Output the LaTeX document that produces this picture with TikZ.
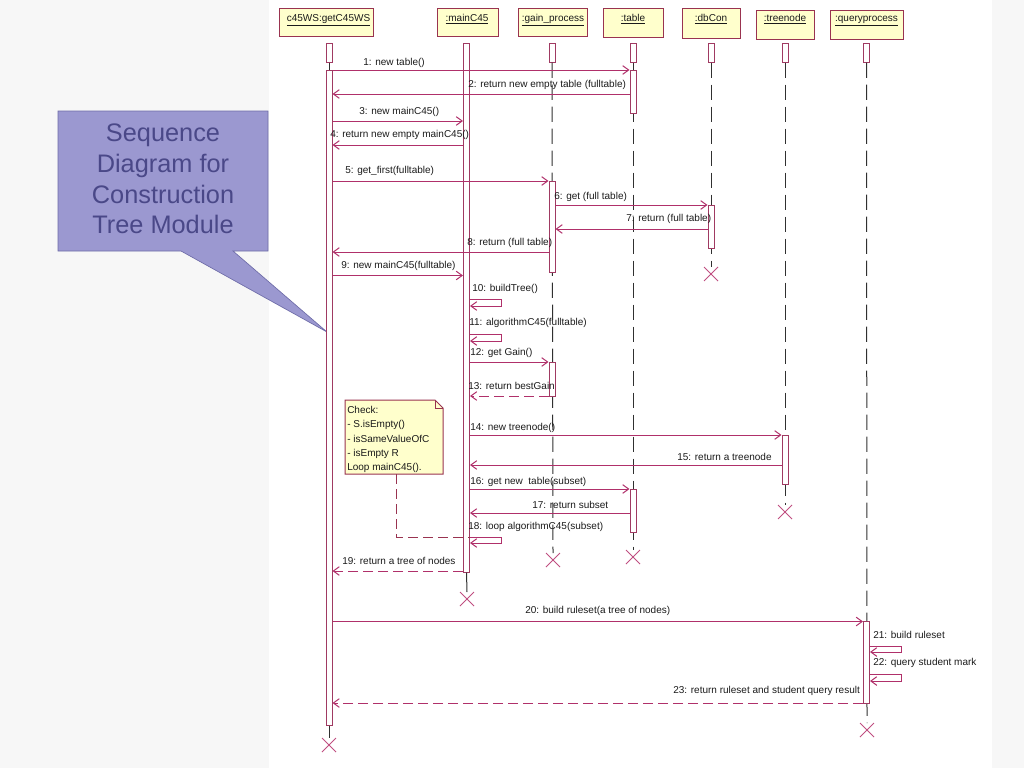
\documentclass[tikz,border=0pt]{standalone}
\usepackage{fontspec}
\setmainfont{Liberation Sans}
\usetikzlibrary{arrows.meta,fit,shapes.misc}
\definecolor{bggray}{HTML}{F7F7F7}
\definecolor{boxfill}{HTML}{FFFFCC}
\definecolor{boxborder}{HTML}{993350}
\definecolor{barborder}{HTML}{A03A62}
\definecolor{msgcol}{HTML}{B0306A}
\definecolor{lifecol}{HTML}{303030}
\definecolor{xcol}{HTML}{C04E80}
\definecolor{labelcol}{HTML}{1A1A1A}
\definecolor{calfill}{HTML}{9B98D0}
\definecolor{calborder}{HTML}{6E6CA8}
\definecolor{caltext}{HTML}{4A4888}
\newcommand\actbar[4]{\node[bar, fit={(#2-3,#3) (#2+3,#4)}] (#1) {};}
\newcommand\xmk[3]{\node[xmark] (#1) at (#2,#3) {};}
\begin{document}
\begin{tikzpicture}[x=0.75pt,y=-0.75pt,
  hdr/.style={draw=boxborder, fill=boxfill, line width=0.75pt, inner sep=0pt},
  hdrtext/.style={font=\fontsize{7.5}{9}\selectfont, inner sep=0pt, anchor=base, text=labelcol},
  bar/.style={draw=barborder, fill=white, line width=0.75pt, inner sep=0pt},
  life/.style={draw=lifecol, line width=0.75pt, dash pattern=on 11.5pt off 5pt},
  solidlife/.style={draw=lifecol, line width=0.75pt},
  msg/.style={draw=msgcol, line width=0.75pt, -{Straight Barb[length=4.5pt,width=6.5pt]}},
  ret/.style={msg, dash pattern=on 7.5pt off 3.75pt},
  lbl/.style={font=\fontsize{7.5}{9}\selectfont, inner sep=0pt, anchor=west, text=labelcol},
  xmark/.style={cross out, draw=xcol, line width=0.75pt, minimum size=9.75pt, inner sep=0pt},
  notelink/.style={draw=boxborder, line width=0.75pt, dash pattern=on 7.5pt off 3.75pt}
]
\useasboundingbox (0,0) rectangle (1024,768);
\fill[bggray] (0,0) rectangle (269,768);
\fill[bggray] (992,0) rectangle (1024,768);

% callout
\filldraw[fill=calfill, draw=calborder, line width=0.5pt]
  (58,111) -- (268,111) -- (268,251) -- (233,251) -- (327,332) -- (181,251) -- (58,251) -- cycle;
\node[font=\fontsize{19}{23}\selectfont, text=caltext, align=center, inner sep=0pt] (title) at (163,179)
  {Sequence\\Diagram for\\Construction\\Tree Module};

% headers
\node[hdr, fit={(279,8) (373,36)}] (hc45) {};
\node[hdrtext] (tc45) at (328.5,21) {\underline{c45WS:getC45WS}};
\node[hdr, fit={(437,8) (498,36)}] (hmain) {};
\node[hdrtext] (tmain) at (467,21) {\underline{:mainC45}};
\node[hdr, fit={(518,8) (587,36)}] (hgain) {};
\node[hdrtext] (tgain) at (553,21) {\underline{:gain\_process}};
\node[hdr, fit={(603,8) (663,37)}] (htab) {};
\node[hdrtext] (ttab) at (633,21) {\underline{:table}};
\node[hdr, fit={(682,8) (740,38)}] (hdb) {};
\node[hdrtext] (tdb) at (711,21) {\underline{:dbCon}};
\node[hdr, fit={(756,10) (814,39)}] (htree) {};
\node[hdrtext] (ttree) at (785,21.5) {\underline{:treenode}};
\node[hdr, fit={(830,10) (903,39)}] (hqp) {};
\node[hdrtext] (tqp) at (866.5,21.5) {\underline{:queryprocess}};

% destroy marks
\xmk{xc45}{329}{745}
\xmk{xmain}{467}{599}
\xmk{xgain}{553}{560}
\xmk{xtab}{633}{557}
\xmk{xdb}{711}{274}
\xmk{xtree}{785}{512}
\xmk{xqp}{867}{730}

% small top boxes
\actbar{c45s}{329}{43}{62}
\actbar{gains}{552}{43}{62}
\actbar{tabs}{633}{43}{62}
\actbar{dbs}{711}{43}{62}
\actbar{trees}{785}{43}{62}
\actbar{qps}{866.5}{43}{62}

% lifelines
\draw[life] (gains.south) -- (xgain.north);
\draw[life] (tabs.south) -- (xtab.north);
\draw[life] (dbs.south) -- (xdb.north);
\draw[life] (trees.south) -- (xtree.north);
\draw[life] (qps.south) -- (xqp.north);

% activation bars
\actbar{c45a}{329}{70}{725}
\actbar{mainA}{466.5}{43}{572}
\actbar{gainA1}{552}{181}{272}
\actbar{gainA2}{552}{362}{396}
\actbar{tabA1}{633}{70}{113}
\actbar{tabA2}{633}{489}{532}
\actbar{dbA}{711}{205}{248}
\actbar{treeA}{785}{435}{484}
\actbar{qpA}{866.5}{621}{703}
\draw[solidlife] (c45s.south) -- (c45a.north);
\draw[solidlife] (c45a.south) -- (xc45.north);
\draw[solidlife] (mainA.south) -- (xmain.north);

% messages
\coordinate (m1) at (0,70);
\draw[msg] (c45a.east |- m1) -- (tabA1.west |- m1);
\node[lbl] (l1) at (363,63) {1: new table()};
\coordinate (m2) at (0,94);
\draw[msg] (tabA1.west |- m2) -- (c45a.east |- m2);
\node[lbl] (l2) at (468,85) {2: return new empty table (fulltable)};
\coordinate (m3) at (0,121);
\draw[msg] (c45a.east |- m3) -- (mainA.west |- m3);
\node[lbl] (l3) at (359,112) {3: new mainC45()};
\coordinate (m4) at (0,145);
\draw[msg] (mainA.west |- m4) -- (c45a.east |- m4);
\node[lbl] (l4) at (330,135) {4: return new empty mainC45()};
\coordinate (m5) at (0,181);
\draw[msg] (c45a.east |- m5) -- (gainA1.west |- m5);
\node[lbl] (l5) at (345,171) {5: get\_first(fulltable)};
\coordinate (m6) at (0,205);
\draw[msg] (gainA1.east |- m6) -- (dbA.west |- m6);
\node[lbl] (l6) at (554,197) {6: get (full table)};
\coordinate (m7) at (0,229);
\draw[msg] (dbA.west |- m7) -- (gainA1.east |- m7);
\node[lbl] (l7) at (626,219) {7: return (full table)};
\coordinate (m8) at (0,252);
\draw[msg] (gainA1.west |- m8) -- (c45a.east |- m8);
\node[lbl] (l8) at (467,243) {8: return (full table)};
\coordinate (m9) at (0,275.5);
\draw[msg] (c45a.east |- m9) -- (mainA.west |- m9);
\node[lbl] (l9) at (341,266) {9: new mainC45(fulltable)};

% self 10
\coordinate (s10t) at (501,299);
\coordinate (s10b) at (501,306);
\draw[msg] (mainA.east |- s10t) -- (s10t) -- (s10b) -- (mainA.east |- s10b);
\node[lbl] (l10) at (472,289) {10: buildTree()};
% self 11
\coordinate (s11t) at (501,334);
\coordinate (s11b) at (501,341);
\draw[msg] (mainA.east |- s11t) -- (s11t) -- (s11b) -- (mainA.east |- s11b);
\node[lbl] (l11) at (469,323) {11: algorithmC45(fulltable)};

\coordinate (m12) at (0,362);
\draw[msg] (mainA.east |- m12) -- (gainA2.west |- m12);
\node[lbl] (l12) at (470,353) {12: get Gain()};
\coordinate (m13) at (0,396);
\draw[ret] (gainA2.west |- m13) -- (mainA.east |- m13);
\node[lbl] (l13) at (468,386) {13: return bestGain};
\coordinate (m14) at (0,435);
\draw[msg] (mainA.east |- m14) -- (treeA.west |- m14);
\node[lbl] (l14) at (470,428) {14: new treenode()};
\coordinate (m15) at (0,465);
\draw[msg] (treeA.west |- m15) -- (mainA.east |- m15);
\node[lbl] (l15) at (677,457) {15: return a treenode};
\coordinate (m16) at (0,489);
\draw[msg] (mainA.east |- m16) -- (tabA2.west |- m16);
\node[lbl] (l16) at (470,482) {16: get new\ \ table(subset)};
\coordinate (m17) at (0,513);
\draw[msg] (tabA2.west |- m17) -- (mainA.east |- m17);
\node[lbl] (l17) at (532,505) {17: return subset};

% note
\filldraw[fill=boxfill, draw=boxborder, line width=0.75pt]
  (345,400) -- (435,400) -- (443,408) -- (443,474) -- (345,474) -- cycle;
\draw[boxborder, line width=0.75pt] (435,400) -- (435,408) -- (443,408);
\node[fit={(345,400) (443,474)}, inner sep=0pt] (note) {};
\node[font=\fontsize{7.5}{10.7}\selectfont, text=labelcol, align=left, anchor=north west, inner sep=0pt] (notet) at (347,406)
  {Check:\\- S.isEmpty()\\- isSameValueOfC\\- isEmpty R\\Loop mainC45().};

% self 18
\coordinate (s18t) at (501,537);
\coordinate (s18b) at (501,543);
\coordinate (nl) at (396,537);
\draw[notelink] (note.south -| nl) -- (nl) -- (s18t);
\draw[msg] (mainA.east |- s18t) -- (s18t) -- (s18b) -- (mainA.east |- s18b);
\node[lbl] (l18) at (468,527) {18: loop algorithmC45(subset)};

\coordinate (m19) at (0,571);
\draw[ret] (mainA.west |- m19) -- (c45a.east |- m19);
\node[lbl] (l19) at (342,561) {19: return a tree of nodes};

\coordinate (m20) at (0,621.5);
\draw[msg] (c45a.east |- m20) -- (qpA.west |- m20);
\node[lbl] (l20) at (525,611) {20: build ruleset(a tree of nodes)};

\coordinate (s21t) at (901,646);
\coordinate (s21b) at (901,652);
\draw[msg] (qpA.east |- s21t) -- (s21t) -- (s21b) -- (qpA.east |- s21b);
\node[lbl] (l21) at (873,635) {21: build ruleset};
\coordinate (s22t) at (901,674);
\coordinate (s22b) at (901,681);
\draw[msg] (qpA.east |- s22t) -- (s22t) -- (s22b) -- (qpA.east |- s22b);
\node[lbl] (l22) at (873,663) {22: query student mark};

\coordinate (m23) at (0,703);
\draw[ret] (qpA.west |- m23) -- (c45a.east |- m23);
\node[lbl] (l23) at (673,691) {23: return ruleset and student query result};
\end{tikzpicture}
\end{document}
